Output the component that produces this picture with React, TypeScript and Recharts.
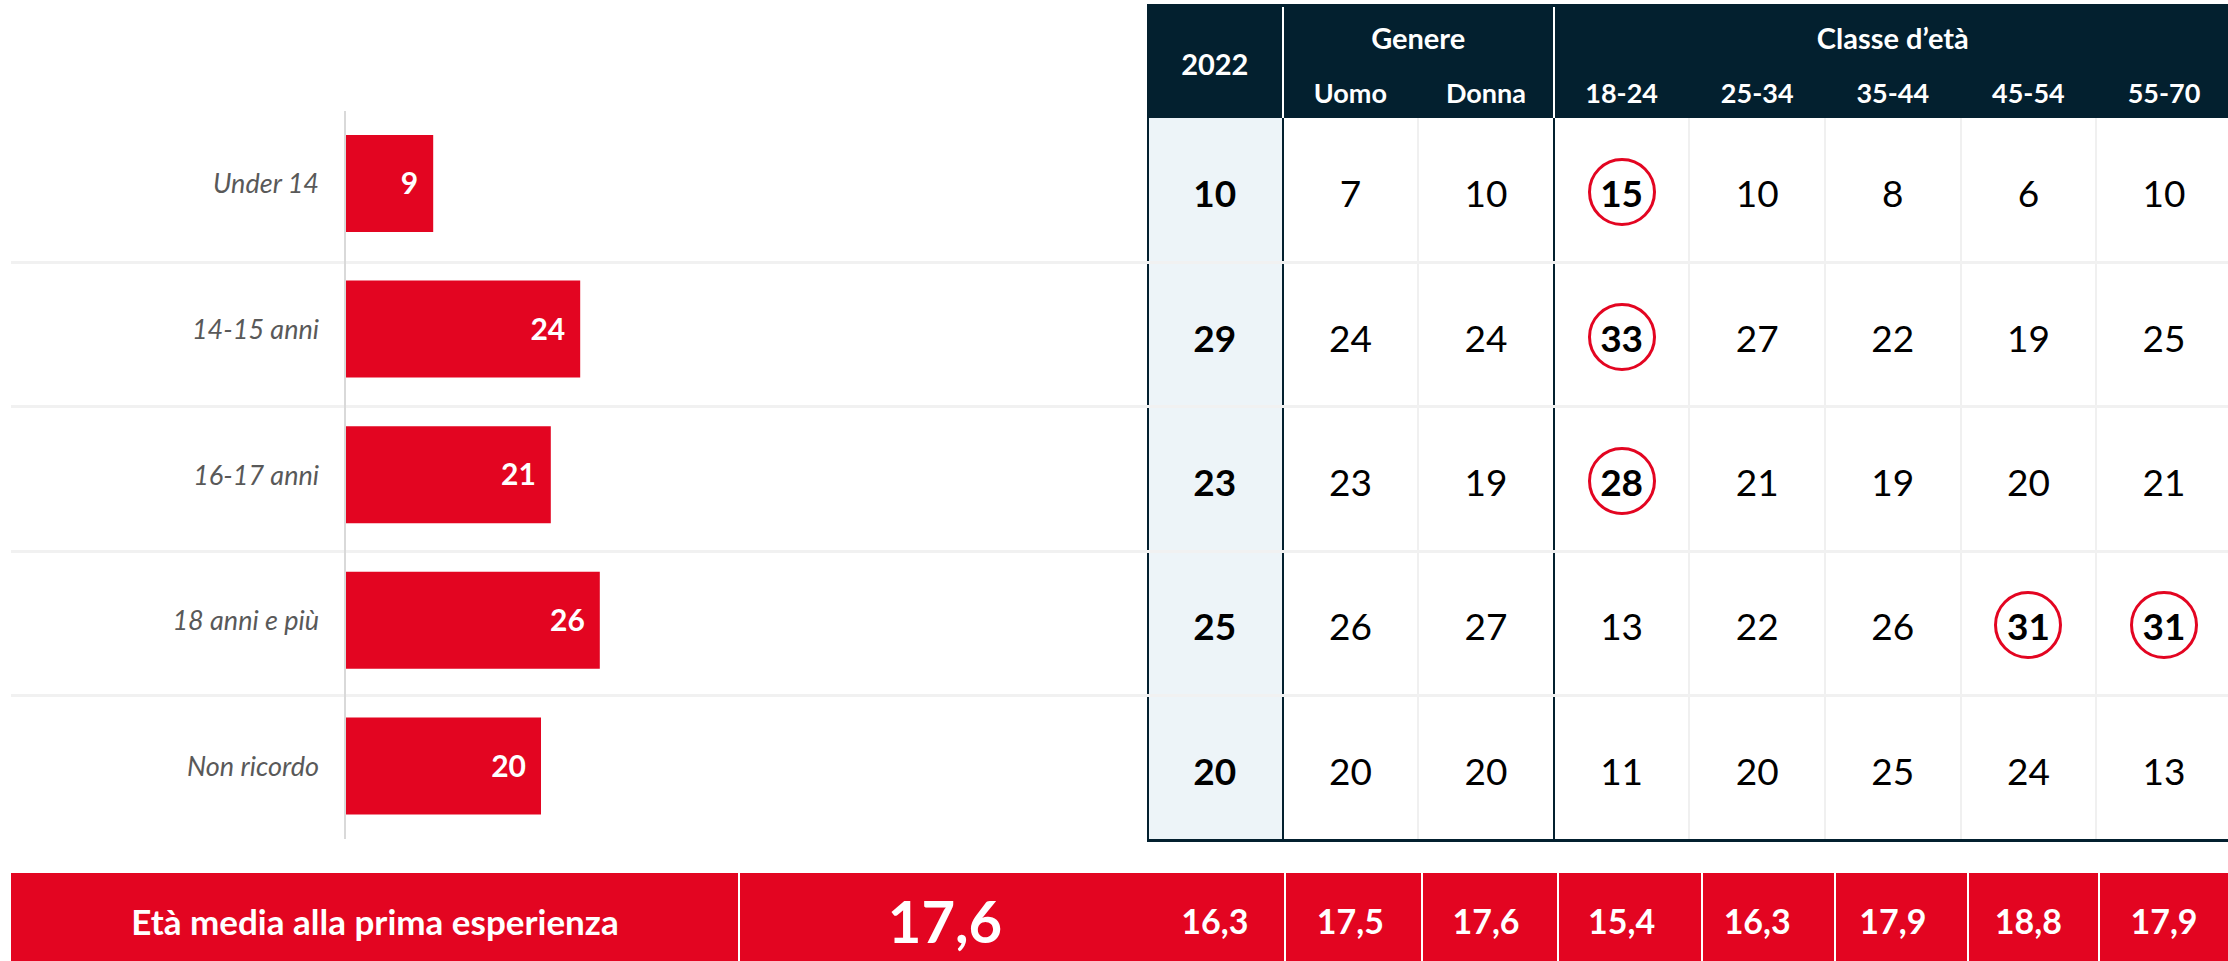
import React from "react";
import { BarChart, Bar, XAxis, YAxis, LabelList } from "recharts";

const categories = ["Under 14", "14-15 anni", "16-17 anni", "18 anni e più", "Non ricordo"];
const firstTimeShare = [9, 24, 21, 26, 20];

const columnLabels = ["2022", "Uomo", "Donna", "18-24", "25-34", "35-44", "45-54", "55-70"];
const total2022 = [10, 29, 23, 25, 20];
const uomo = [7, 24, 23, 26, 20];
const donna = [10, 24, 19, 27, 20];
const age18_24 = [15, 33, 28, 13, 11];
const age25_34 = [10, 27, 21, 22, 20];
const age35_44 = [8, 22, 19, 26, 25];
const age45_54 = [6, 19, 20, 31, 24];
const age55_70 = [10, 25, 21, 31, 13];

const averageLabel = "Età media alla prima esperienza";
const averageOverall = 17.6;
const averageByColumn = [16.3, 17.5, 17.6, 15.4, 16.3, 17.9, 18.8, 17.9];

// [row, column] of the circled values
const highlighted = [
  [0, 3],
  [1, 3],
  [2, 3],
  [3, 6],
  [3, 7],
];

const W = 2228;
const H = 961;
const RED = "#E30521";
const NAVY = "#03202F";
const FONT = "Lato, 'Open Sans', sans-serif";

const TABLE_LEFT = 1147;
const COL_W = 135.6;
const HEAD_TOP = 4;
const BODY_TOP = 118;
const ROW_H = 144.4;
const BODY_BOTTOM = BODY_TOP + ROW_H * 5;
const FOOT_TOP = 873;
const FOOT_MID = 921;
const footEdges = [738, 1284, 1421, 1557, 1701, 1834, 1967, 2098];

const colX = (i: number) => TABLE_LEFT + i * COL_W;
const colMid = (i: number) => colX(i) + COL_W / 2;
const rowMid = (r: number) => BODY_TOP + r * ROW_H + ROW_H / 2;
const fmt = (v: number) => v.toFixed(1).replace(".", ",");

const barData = categories.map((label, i) => ({ label, value: firstTimeShare[i] }));
const tableColumns = [total2022, uomo, donna, age18_24, age25_34, age35_44, age45_54, age55_70];

const Txt = ({ x, y, children, style }: { x: number; y: number; children: React.ReactNode; style?: React.CSSProperties }) => (
  <div
    style={{
      position: "absolute",
      left: x,
      top: y,
      transform: "translate(-50%, -50%)",
      whiteSpace: "nowrap",
      lineHeight: 1,
      ...style,
    }}
  >
    {children}
  </div>
);

const Box = ({ l, t, w, h, bg }: { l: number; t: number; w: number; h: number; bg: string }) => (
  <div style={{ position: "absolute", left: l, top: t, width: w, height: h, background: bg }} />
);

export default function App() {
  const isCircled = (r: number, c: number) => highlighted.some(([hr, hc]) => hr === r && hc === c);

  return (
    <div style={{ position: "relative", width: W, height: H, overflow: "hidden", background: "#fff", fontFamily: FONT }}>
      <style>{`body{margin:0}`}</style>

      {/* table header */}
      <Box l={TABLE_LEFT} t={HEAD_TOP} w={W - TABLE_LEFT} h={BODY_TOP - HEAD_TOP} bg={NAVY} />
      <Box l={colX(1) - 1} t={7} w={2} h={BODY_TOP - 7} bg="#fff" />
      <Box l={colX(3) - 1} t={7} w={2} h={BODY_TOP - 7} bg="#fff" />
      <Txt x={colMid(0)} y={63} style={{ color: "#fff", fontWeight: 700, fontSize: 29 }}>
        {columnLabels[0]}
      </Txt>
      <Txt x={(colX(1) + colX(3)) / 2} y={37} style={{ color: "#fff", fontWeight: 700, fontSize: 29 }}>
        Genere
      </Txt>
      <Txt x={(colX(3) + colX(8)) / 2} y={37} style={{ color: "#fff", fontWeight: 700, fontSize: 29 }}>
        Classe d’età
      </Txt>
      {columnLabels.slice(1).map((lab, i) => (
        <Txt key={lab} x={colMid(i + 1)} y={92} style={{ color: "#fff", fontWeight: 700, fontSize: 27 }}>
          {lab}
        </Txt>
      ))}

      {/* table body */}
      <Box l={TABLE_LEFT} t={BODY_TOP} w={COL_W} h={BODY_BOTTOM - BODY_TOP} bg="#EDF4F8" />
      {[2, 4, 5, 6, 7].map((i) => (
        <Box key={i} l={colX(i) - 1} t={BODY_TOP} w={2} h={BODY_BOTTOM - BODY_TOP} bg="#F0F0F0" />
      ))}
      <Box l={TABLE_LEFT} t={BODY_TOP} w={2} h={BODY_BOTTOM - BODY_TOP} bg={NAVY} />
      <Box l={colX(1) - 1} t={BODY_TOP} w={2} h={BODY_BOTTOM - BODY_TOP} bg={NAVY} />
      <Box l={colX(3) - 1} t={BODY_TOP} w={2} h={BODY_BOTTOM - BODY_TOP} bg={NAVY} />
      {[1, 2, 3, 4].map((k) => (
        <Box key={k} l={11} t={BODY_TOP + k * ROW_H - 1.5} w={W - 11} h={3} bg="#F1F1F1" />
      ))}
      <Box l={TABLE_LEFT} t={BODY_BOTTOM - 1} w={W - TABLE_LEFT} h={3} bg={NAVY} />

      {tableColumns.map((col, c) =>
        col.map((v, r) => {
          const circled = isCircled(r, c);
          return (
            <React.Fragment key={`${c}-${r}`}>
              {circled && (
                <div
                  style={{
                    position: "absolute",
                    left: colMid(c) - 34,
                    top: rowMid(r) + 2 - 34,
                    width: 68,
                    height: 68,
                    boxSizing: "border-box",
                    borderRadius: "50%",
                    border: `3.5px solid ${RED}`,
                    background: "#fff",
                  }}
                />
              )}
              <Txt
                x={colMid(c)}
                y={rowMid(r) + 2}
                style={{ color: "#000", fontSize: 37, fontWeight: c === 0 || circled ? 700 : 400 }}
              >
                {v}
              </Txt>
            </React.Fragment>
          );
        })
      )}

      {/* footer row */}
      <Box l={11} t={FOOT_TOP} w={W - 11} h={H - FOOT_TOP} bg={RED} />
      {footEdges.map((x) => (
        <Box key={x} l={x} t={FOOT_TOP} w={2} h={H - FOOT_TOP} bg="#fff" />
      ))}
      <Txt x={375} y={FOOT_MID} style={{ color: "#fff", fontWeight: 700, fontSize: 35 }}>
        {averageLabel}
      </Txt>
      <Txt x={945} y={FOOT_MID} style={{ color: "#fff", fontWeight: 700, fontSize: 58 }}>
        {fmt(averageOverall)}
      </Txt>
      {averageByColumn.map((v, i) => (
        <Txt key={i} x={colMid(i)} y={FOOT_MID} style={{ color: "#fff", fontWeight: 700, fontSize: 34 }}>
          {fmt(v)}
        </Txt>
      ))}

      {/* bar chart */}
      <div style={{ position: "absolute", left: 0, top: 0 }}>
        <BarChart
          layout="vertical"
          width={1129}
          height={H}
          data={barData}
          margin={{ top: 111, right: 0, bottom: 122, left: 0 }}
        >
          <XAxis type="number" domain={[0, 80]} hide />
          <YAxis
            type="category"
            dataKey="label"
            width={345}
            axisLine={{ stroke: "#D9D9D9", strokeWidth: 2 }}
            tickLine={false}
            tickMargin={20}
            tick={{ fill: "#595959", fontSize: 27, fontStyle: "italic", fontFamily: FONT }}
          />
          <Bar dataKey="value" fill={RED} barSize={97} isAnimationActive={false}>
            <LabelList
              dataKey="value"
              position="insideRight"
              offset={15}
              fill="#fff"
              fontSize={30}
              fontWeight={700}
              fontFamily={FONT}
            />
          </Bar>
        </BarChart>
      </div>
    </div>
  );
}
